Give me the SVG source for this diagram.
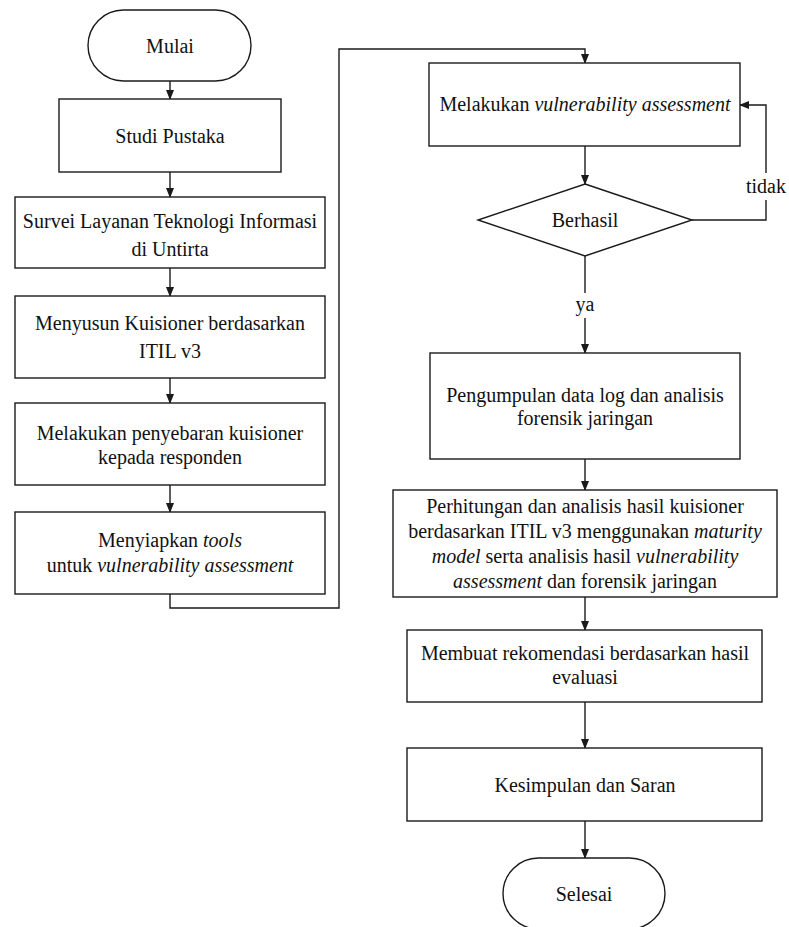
<svg xmlns="http://www.w3.org/2000/svg" width="789" height="927" viewBox="0 0 789 927">
<defs>
<style>
.n{fill:#fff;stroke:#1a1a1a;stroke-width:1.4}
.c{fill:none;stroke:#1a1a1a;stroke-width:1.4}
.t{font-family:'Liberation Serif','Times New Roman',serif;font-size:20px;fill:#111;text-anchor:middle}
.i{font-style:italic}
</style>
<marker id="ah" markerWidth="10" markerHeight="8" refX="9" refY="4" orient="auto" markerUnits="userSpaceOnUse">
<path d="M0,0 L10,4 L0,8 z" fill="#1a1a1a"/>
</marker>
</defs>
<rect width="789" height="927" fill="#fff"/>
<g id="connectors">
<path class="c" d="M170,81 V99" marker-end="url(#ah)"/>
<path class="c" d="M170,172 V197" marker-end="url(#ah)"/>
<path class="c" d="M170,268 V296" marker-end="url(#ah)"/>
<path class="c" d="M170,378 V403" marker-end="url(#ah)"/>
<path class="c" d="M170,485 V512" marker-end="url(#ah)"/>
<path class="c" d="M170,594 V608 H339 V49 H585 V63" marker-end="url(#ah)"/>
<path class="c" d="M585,146 V184" marker-end="url(#ah)"/>
<path class="c" d="M692,220 H766 V200"/>
<path class="c" d="M766,173 V105 H740" marker-end="url(#ah)"/>
<path class="c" d="M585,256 V293"/>
<path class="c" d="M585,318 V353" marker-end="url(#ah)"/>
<path class="c" d="M585,459 V490" marker-end="url(#ah)"/>
<path class="c" d="M585,597 V630" marker-end="url(#ah)"/>
<path class="c" d="M585,702 V748" marker-end="url(#ah)"/>
<path class="c" d="M585,821 V858" marker-end="url(#ah)"/>
<text class="t" x="766" y="193">tidak</text>
<text class="t" x="585" y="311">ya</text>
</g>
<g id="mulai">
<rect class="n" x="88" y="10" width="163" height="71" rx="35.5" ry="35.5"/>
<text class="t" x="170" y="53">Mulai</text>
</g>
<g id="studi">
<rect class="n" x="59" y="99" width="222" height="73"/>
<text class="t" x="170" y="143">Studi Pustaka</text>
</g>
<g id="survei">
<rect class="n" x="15" y="197" width="310" height="71"/>
<text class="t" x="170" y="228">Survei Layanan Teknologi Informasi</text>
<text class="t" x="170" y="256">di Untirta</text>
</g>
<g id="menyusun">
<rect class="n" x="15" y="296" width="310" height="82"/>
<text class="t" x="170" y="330">Menyusun Kuisioner berdasarkan</text>
<text class="t" x="170" y="358">ITIL v3</text>
</g>
<g id="penyebaran">
<rect class="n" x="15" y="403" width="310" height="82"/>
<text class="t" x="170" y="440">Melakukan penyebaran kuisioner</text>
<text class="t" x="170" y="464">kepada responden</text>
</g>
<g id="menyiapkan">
<rect class="n" x="15" y="512" width="310" height="82"/>
<text class="t" x="170" y="547">Menyiapkan <tspan class="i">tools</tspan></text>
<text class="t" x="170" y="572">untuk <tspan class="i">vulnerability assessment</tspan></text>
</g>
<g id="va">
<rect class="n" x="429" y="63" width="311" height="83"/>
<text class="t" x="585" y="111">Melakukan <tspan class="i">vulnerability assessment</tspan></text>
</g>
<g id="berhasil">
<polygon class="n" points="585,184 692,220 585,256 478,220"/>
<text class="t" x="585" y="227">Berhasil</text>
</g>
<g id="pengumpulan">
<rect class="n" x="430" y="353" width="310" height="106"/>
<text class="t" x="585" y="402">Pengumpulan data log dan analisis</text>
<text class="t" x="585" y="425">forensik jaringan</text>
</g>
<g id="perhitungan">
<rect class="n" x="393" y="490" width="384" height="107"/>
<text class="t" x="585" y="513">Perhitungan dan analisis hasil kuisioner</text>
<text class="t" x="585" y="538">berdasarkan ITIL v3 menggunakan <tspan class="i">maturity</tspan></text>
<text class="t" x="585" y="563"><tspan class="i">model</tspan> serta analisis hasil <tspan class="i">vulnerability</tspan></text>
<text class="t" x="585" y="588"><tspan class="i">assessment</tspan> dan forensik jaringan</text>
</g>
<g id="membuat">
<rect class="n" x="407" y="630" width="355" height="72"/>
<text class="t" x="585" y="660">Membuat rekomendasi berdasarkan hasil</text>
<text class="t" x="585" y="684">evaluasi</text>
</g>
<g id="kesimpulan">
<rect class="n" x="407" y="748" width="355" height="73"/>
<text class="t" x="585" y="792">Kesimpulan dan Saran</text>
</g>
<g id="selesai">
<rect class="n" x="503" y="858" width="162" height="71" rx="35.5" ry="35.5"/>
<text class="t" x="584" y="901">Selesai</text>
</g>
</svg>
